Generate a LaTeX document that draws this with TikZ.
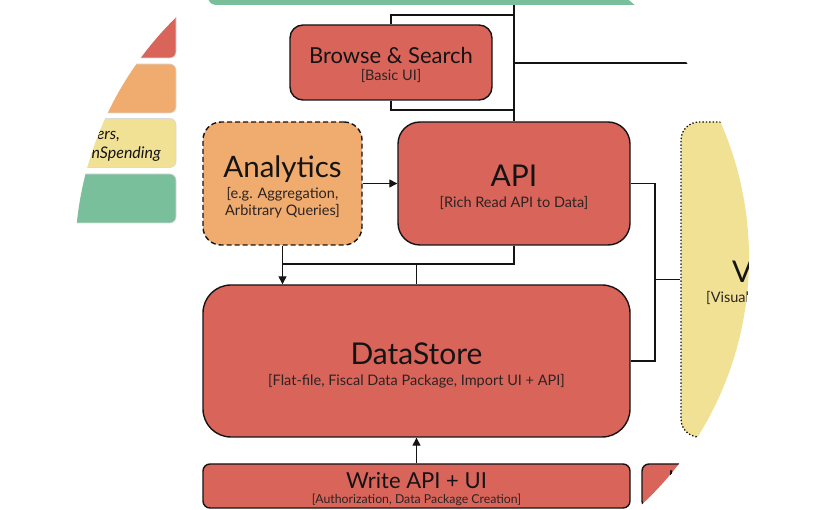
\documentclass[tikz,border=0pt]{standalone}
\usepackage{fontspec}
\setmainfont{Lato}
\usetikzlibrary{arrows.meta}

\definecolor{cRed}{RGB}{217,100,90}
\definecolor{cOrange}{RGB}{240,172,110}
\definecolor{cYellow}{RGB}{241,225,148}
\definecolor{cGreen}{RGB}{122,191,156}
\definecolor{cInk}{RGB}{20,20,20}
\definecolor{cSub}{RGB}{45,35,35}

\newcommand{\mainsz}[1]{\fontsize{#1}{#1}\selectfont}
\newcommand{\subline}[1]{{\fontsize{14.5}{17}\selectfont\color{cSub}#1}}

\tikzset{
  block/.style={rectangle, draw=cInk, line width=1.4pt, inner sep=0pt},
  redblock/.style={block, fill=cRed},
  caption/.style={align=center, text=cInk, inner sep=0pt},
  legendbox/.style={rectangle, draw=white!85!black, line width=0.6pt,
                    rounded corners=6pt, inner sep=0pt,
                    minimum width=200, minimum height=49},
  conn/.style={draw=cInk, line width=1.3pt},
  arr/.style={conn, -{Triangle[length=8pt,width=8pt]}},
}

\begin{document}
\begin{tikzpicture}[x=1pt,y=-1pt]
\useasboundingbox (0,0) rectangle (825,510);
\clip (412,258) circle (337);

% top bar
\node[rectangle, fill=cGreen, rounded corners=8pt, inner sep=0pt,
      minimum width=500, minimum height=60] (top) at (458,-25) {};

% legend stack
\node[legendbox, fill=cRed]    (lgRed)    at (76,33.5) {};
\node[legendbox, fill=cOrange] (lgOrange) at (76,88.5) {};
\node[legendbox, fill=cYellow] (lgYellow) at (76,143) {};
\node[legendbox, fill=cGreen]  (lgGreen)  at (76,198.5) {};
\node[anchor=base east, inner sep=0pt, text=cInk, font=\mainsz{16}\itshape]
  (lgTextA) at (120,140) {Developers,};
\node[anchor=base east, inner sep=0pt, text=cInk, font=\mainsz{16}\itshape]
  (lgTextB) at (161,159) {OpenSpending};

% component boxes
\node[redblock, rounded corners=13pt, minimum width=202, minimum height=75]
  (browse) at (391,62.5) {};
\node[caption, yshift=-2pt] (browseText) at (browse)
  {\mainsz{22}Browse \& Search\\[5pt]\subline{[Basic UI]}};

\node[block, fill=cOrange, dashed, dash pattern=on 5pt off 3pt,
      rounded corners=18pt, minimum width=159, minimum height=123]
  (analytics) at (282.5,183.5) {};
\node[caption, yshift=-3pt] (analyticsText) at (analytics)
  {\mainsz{29.5}Analytics\\[4pt]\subline{[e.g. Aggregation,}\\[2pt]\subline{Arbitrary Queries]}};

\node[redblock, rounded corners=22pt, minimum width=232, minimum height=123]
  (api) at (514,183.5) {};
\node[caption, yshift=-4pt] (apiText) at (api)
  {\mainsz{30}API\\[8.5pt]\subline{[Rich Read API to Data]}};

\node[redblock, rounded corners=28pt, minimum width=427, minimum height=152]
  (datastore) at (416.5,361) {};
\node[caption, yshift=-4pt] (datastoreText) at (datastore)
  {\mainsz{30}DataStore\\[9pt]\subline{[Flat-file, Fiscal Data Package, Import UI + API]}};

\node[redblock, rounded corners=7pt, minimum width=427, minimum height=44]
  (write) at (416.5,486) {};
\node[caption, yshift=-3.5pt] (writeText) at (write)
  {\mainsz{22}Write API + UI\\[3pt]{\fontsize{12.3}{14}\selectfont\color{cSub}[Authorization, Data Package Creation]}};

\node[redblock, rounded corners=7pt, minimum width=160, minimum height=44]
  (importer) at (722,486) {};
\node[anchor=north west, inner sep=0pt, text=cInk, font=\mainsz{22}]
  (importerText) at (668,471) {Importers};

\node[block, fill=cYellow, dotted, line width=1.3pt, rounded corners=18pt,
      minimum width=170, minimum height=315]
  (viz) at (766,279.5) {};
\node[anchor=base west, inner sep=0pt, text=cInk, font=\mainsz{30}]
  (vizTitle) at (732,283) {Visualizations};
\node[anchor=base west, inner sep=0pt]
  (vizSub) at (706,303) {\subline{[Visualization Embeds]}};

% junction points
\coordinate (browseTop) at (514,15);
\coordinate (browseBot) at (514,110);
\coordinate (sideFork)  at (514,63);
\coordinate (sideEnd)   at (800,63);
\coordinate (merge)     at (416.5,264);
\coordinate (vizFork)   at (655,279.5);

% connectors
\draw[conn] (top.south -| api.north) -- (api.north);
\draw[conn] (browse.north) |- (browseTop);
\draw[conn] (browse.south) |- (browseBot);
\draw[conn] (sideFork) -- (sideEnd);

\draw[arr] (analytics.east) -- (api.west);
\draw[conn] (api.south) |- (analytics.south |- merge);
\draw[conn] (merge) -- (datastore.north);
\draw[arr] (analytics.south) -- (analytics.south |- datastore.north);

\draw[conn] (api.east) -| (vizFork) |- (datastore.east);
\draw[conn] (vizFork) -- (viz.west);

\draw[arr] (write.north) -- (datastore.south);
\end{tikzpicture}
\end{document}
